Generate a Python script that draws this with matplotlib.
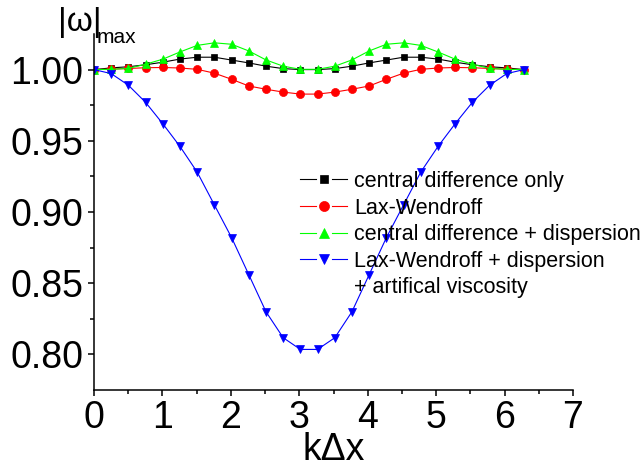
import matplotlib
matplotlib.use("Agg")
import matplotlib.pyplot as plt
from matplotlib.lines import Line2D
from matplotlib.legend_handler import HandlerBase
from matplotlib.ticker import MultipleLocator, FixedLocator

plt.rcParams['font.family'] = ['Liberation Sans', 'DejaVu Sans']

# k*dx sample points (0 .. 2*pi, 26 samples)
kdx = [0.000, 0.251, 0.503, 0.754, 1.005, 1.257, 1.508, 1.759, 2.011, 2.262,
       2.513, 2.765, 3.016, 3.267, 3.519, 3.770, 4.021, 4.273, 4.524, 4.775,
       5.027, 5.278, 5.529, 5.781, 6.032, 6.283]

# |omega|_max
central = [1.0000, 1.0012, 1.0020, 1.0034, 1.0052, 1.0074, 1.0087, 1.0087, 1.0067, 1.0047,
           1.0024, 1.0007, 1.0000, 1.0000, 1.0007, 1.0024, 1.0047, 1.0067, 1.0087, 1.0087,
           1.0074, 1.0052, 1.0034, 1.0020, 1.0012, 1.0000]
lax_wendroff = [1.0000, 1.0003, 1.0008, 1.0013, 1.0015, 1.0011, 1.0002, 0.9975, 0.9932, 0.9885,
                0.9862, 0.9842, 0.9828, 0.9828, 0.9842, 0.9862, 0.9885, 0.9932, 0.9975, 1.0002,
                1.0011, 1.0015, 1.0013, 1.0008, 1.0003, 1.0000]
central_disp = [1.0000, 1.0002, 1.0008, 1.0038, 1.0073, 1.0124, 1.0170, 1.0188, 1.0178, 1.0131,
                1.0068, 1.0024, 1.0002, 1.0002, 1.0024, 1.0068, 1.0131, 1.0178, 1.0188, 1.0170,
                1.0124, 1.0073, 1.0038, 1.0008, 1.0002, 1.0000]
lw_disp_visc = [1.0000, 0.9972, 0.9890, 0.9770, 0.9620, 0.9460, 0.9280, 0.9050, 0.8820, 0.8560,
                0.8300, 0.8117, 0.8035, 0.8035, 0.8117, 0.8300, 0.8560, 0.8820, 0.9050, 0.9280,
                0.9460, 0.9620, 0.9770, 0.9890, 0.9972, 1.0000]

labels = ['central difference only', 'Lax-Wendroff',
          'central difference + dispersion', 'Lax-Wendroff + dispersion']


# legend entry drawn as  —■—  with small gaps either side of the marker
class GapHandler(HandlerBase):
    def create_artists(self, legend, orig, xdescent, ydescent, width, height, fontsize, trans):
        y = height / 2 - ydescent
        x0 = -xdescent
        x1 = x0 + width
        if orig.get_color() == 'none':
            # blank handle for the continuation line of the last label
            return [Line2D([x0], [y], ls='none', marker='None', transform=trans)]
        xm = (x0 + x1) / 2
        g = 0.17 * width
        kw = dict(color=orig.get_color(), lw=orig.get_linewidth(), transform=trans)
        a = Line2D([x0, xm - g], [y, y], **kw)
        b = Line2D([xm + g, x1], [y, y], **kw)
        m = Line2D([xm], [y], ls='none', marker=orig.get_marker(),
                   ms=orig.get_markersize() * 1.25, mew=0.5,
                   color=orig.get_color(), transform=trans)
        return [a, b, m]


W, H = 644, 467
fig = plt.figure(figsize=(W / 100, H / 100), dpi=100)
ax = fig.add_axes([94 / W, 1 - 390 / H, (573 - 94) / W, (390 - 34) / H])

lw = 0.8
ax.plot(kdx, central, '-s', color='black', lw=lw, ms=5.0, mew=0.5, label=labels[0])
ax.plot(kdx, lax_wendroff, '-o', color='#ff0000', lw=lw, ms=5.8, mew=0.5, label=labels[1])
ax.plot(kdx, central_disp, '-^', color='#00ff00', lw=lw, ms=6.3, mew=0.5, label=labels[2])
ax.plot(kdx, lw_disp_visc, '-v', color='#0000ff', lw=lw, ms=6.3, mew=0.5, label=labels[3])

ax.set_xlim(0, 7)
ax.set_ylim(0.775, 1.025)
ax.xaxis.set_major_locator(MultipleLocator(1))
ax.xaxis.set_minor_locator(MultipleLocator(0.5))
ax.yaxis.set_major_locator(FixedLocator([0.80, 0.85, 0.90, 0.95, 1.00]))
ax.yaxis.set_minor_locator(FixedLocator([0.825, 0.875, 0.925, 0.975]))
ax.yaxis.set_major_formatter(matplotlib.ticker.FormatStrFormatter('%.2f'))

for s in ['top', 'right']:
    ax.spines[s].set_visible(False)
for s in ['left', 'bottom']:
    ax.spines[s].set_linewidth(1.1)
ax.tick_params(which='both', direction='out', width=1.1, labelsize=27)
ax.tick_params(which='major', length=4.5, pad=3)
ax.tick_params(which='minor', length=3)

ax.set_xlabel('k\u0394x', fontsize=27, labelpad=-3)

fig.text(58 / W, 1 - 31 / H, '|\u03c9|', fontsize=24, va='baseline', ha='left')
fig.text(97 / W, 1 - 43 / H, 'max', fontsize=15, va='baseline', ha='left')

handles, labs = ax.get_legend_handles_labels()
handles.append(Line2D([], [], color='none'))
labs.append('+ artifical viscosity')
ax.legend(handles, labs, loc='upper left', bbox_to_anchor=(300 / W, 1 - 171 / H),
          bbox_transform=fig.transFigure, frameon=False, fontsize=15.5,
          handler_map={Line2D: GapHandler()},
          handlelength=2.2, handletextpad=0.3, labelspacing=0.26,
          borderpad=0, borderaxespad=0)

fig.savefig('out.png', dpi=100)
